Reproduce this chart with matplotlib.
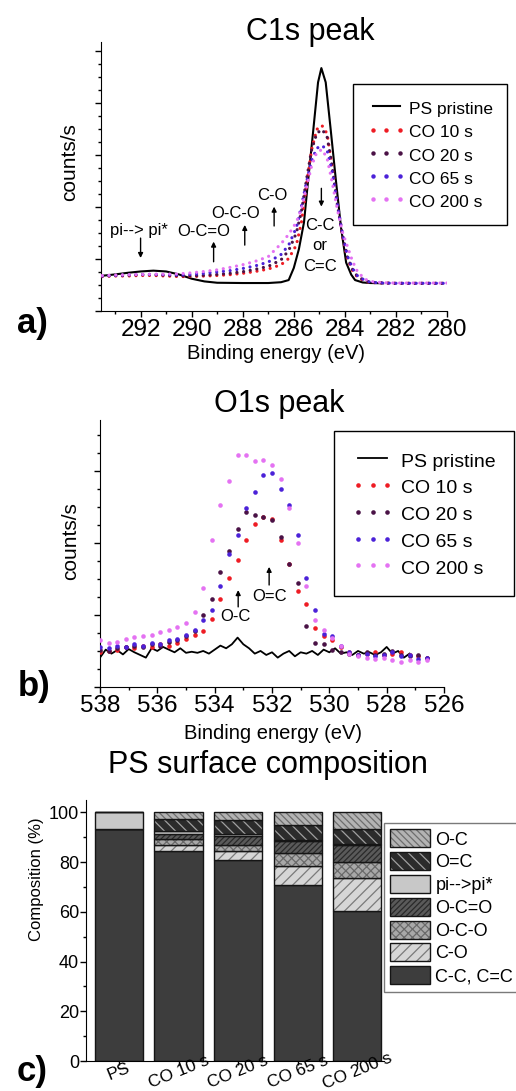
import numpy as np
import matplotlib
matplotlib.use("Agg")
import matplotlib.pyplot as plt
from matplotlib.ticker import MultipleLocator, AutoMinorLocator
from matplotlib.lines import Line2D
from matplotlib.legend_handler import HandlerTuple

# ---------------- data: a) C1s ----------------
e_ps_c = [293.6, 293.0, 292.5, 292.0, 291.5, 291.0, 290.5, 290.0, 289.5, 289.0, 288.0, 287.0,
          286.5, 286.2, 286.0, 285.8, 285.6, 285.45, 285.25, 285.05, 284.92, 284.75, 284.55,
          284.35, 284.15, 283.95, 283.75, 283.6, 283.3, 283.0, 282.5]
ps_c = [1.30, 1.36, 1.42, 1.47, 1.50, 1.47, 1.36, 1.20, 1.10, 1.05, 1.04, 1.04,
        1.07, 1.15, 1.60, 2.30, 3.30, 4.75, 6.60, 8.50, 9.03, 8.50, 6.70,
        4.85, 3.10, 1.80, 1.35, 1.15, 1.06, 1.04, 1.03]

e_c = [293.5, 293.0, 292.5, 292.0, 291.5, 291.0, 290.5, 290.0, 289.5, 289.0, 288.5, 288.0,
       287.5, 287.0, 286.5, 286.2, 285.9, 285.7, 285.5, 285.3, 285.1, 284.9, 284.7, 284.5,
       284.3, 284.1, 283.9, 283.7, 283.5, 283.2, 283.0, 282.5, 282.0, 281.5, 281.0, 280.5, 280.0]
co10_c = [1.28, 1.30, 1.30, 1.32, 1.32, 1.30, 1.28, 1.28, 1.30, 1.32, 1.35, 1.40,
          1.47, 1.56, 1.72, 1.95, 2.45, 3.30, 4.70, 6.00, 6.75, 6.90, 6.60, 5.40,
          4.00, 2.80, 1.95, 1.50, 1.25, 1.10, 1.06, 1.04, 1.03, 1.03, 1.03, 1.03, 1.03]
co20_c = [1.30, 1.32, 1.33, 1.35, 1.35, 1.33, 1.31, 1.30, 1.33, 1.36, 1.40, 1.46,
          1.55, 1.66, 1.90, 2.25, 2.90, 3.70, 4.90, 6.00, 6.60, 6.75, 6.50, 5.40,
          4.00, 2.85, 2.00, 1.55, 1.28, 1.12, 1.07, 1.04, 1.03, 1.03, 1.03, 1.03, 1.03]
co65_c = [1.30, 1.32, 1.34, 1.36, 1.36, 1.35, 1.34, 1.36, 1.40, 1.45, 1.50, 1.58,
          1.68, 1.82, 2.10, 2.45, 3.10, 3.90, 4.80, 5.60, 6.05, 6.15, 6.00, 5.20,
          4.00, 2.90, 2.05, 1.58, 1.30, 1.13, 1.07, 1.04, 1.03, 1.03, 1.03, 1.03, 1.03]
co200_c = [1.32, 1.34, 1.35, 1.36, 1.37, 1.37, 1.38, 1.42, 1.47, 1.53, 1.62, 1.72,
           1.85, 2.02, 2.50, 2.85, 3.30, 3.80, 4.60, 5.40, 5.90, 6.00, 5.70, 4.80,
           3.80, 2.95, 2.40, 1.85, 1.45, 1.18, 1.10, 1.05, 1.04, 1.04, 1.04, 1.04, 1.04]

# ---------------- data: b) O1s ----------------
e_ps_o = [538.0, 537.8, 537.6, 537.4, 537.2, 537.0, 536.8, 536.6, 536.4, 536.2, 536.0,
          535.8, 535.6, 535.4, 535.2, 535.0, 534.8, 534.6, 534.4, 534.2, 534.0,
          533.8, 533.6, 533.4, 533.2, 533.0, 532.8, 532.6, 532.4, 532.2, 532.0,
          531.8, 531.6, 531.4, 531.2, 531.0, 530.8, 530.6, 530.4, 530.2, 530.0,
          529.8, 529.6, 529.4, 529.2, 529.0, 528.8, 528.6, 528.4, 528.2, 528.0,
          527.8, 527.6, 527.4, 527.2]
ps_o = [1.10, 1.40, 1.25, 1.38, 1.22, 1.42, 1.30, 1.20, 1.10, 1.45, 1.35,
        1.50, 1.40, 1.30, 1.45, 1.28, 1.32, 1.28, 1.35, 1.25, 1.40,
        1.55, 1.45, 1.60, 1.85, 1.60, 1.45, 1.25, 1.35, 1.20, 1.30,
        1.10, 1.25, 1.35, 1.15, 1.30, 1.25, 1.35, 1.20, 1.40, 1.30,
        1.45, 1.25, 1.30, 1.20, 1.35, 1.25, 1.30, 1.20, 1.30, 1.50,
        1.25, 1.35, 1.10, 1.25]

e_o = [538.0, 537.7, 537.4, 537.1, 536.8, 536.5, 536.2, 535.9, 535.6, 535.3, 535.0, 534.7,
       534.4, 534.1, 533.8, 533.5, 533.2, 532.9, 532.6, 532.3, 532.0, 531.7, 531.4, 531.1,
       530.8, 530.5, 530.2, 529.9, 529.6, 529.3, 529.0, 528.7, 528.4, 528.1, 527.8, 527.5,
       527.2, 526.9, 526.6]
co10_o = [1.30, 1.35, 1.40, 1.50, 1.45, 1.55, 1.50, 1.60, 1.55, 1.65, 1.80, 1.95,
          2.10, 2.55, 3.30, 4.10, 4.75, 5.50, 6.10, 6.35, 6.30, 5.50, 4.60, 3.60,
          3.10, 2.20, 1.90, 1.75, 1.50, 1.30, 1.20, 1.25, 1.30, 1.20, 1.25, 1.30,
          1.20, 1.15, 1.10]
co20_o = [1.40, 1.35, 1.45, 1.50, 1.55, 1.50, 1.60, 1.55, 1.70, 1.75, 1.90, 2.10,
          2.70, 3.30, 4.30, 5.10, 5.90, 6.55, 6.45, 6.35, 6.25, 5.60, 4.60, 3.90,
          2.30, 1.65, 1.60, 1.40, 1.30, 1.25, 1.20, 1.30, 1.20, 1.25, 1.35, 1.20,
          1.15, 1.20, 1.10]
co65_o = [1.50, 1.45, 1.55, 1.50, 1.60, 1.55, 1.65, 1.60, 1.75, 1.80, 1.95, 2.15,
          2.50, 2.90, 3.80, 5.00, 5.70, 6.70, 7.30, 7.95, 8.00, 7.40, 6.80, 5.70,
          4.10, 2.90, 2.00, 1.90, 1.55, 1.30, 1.20, 1.25, 1.15, 1.20, 1.30, 1.15,
          1.20, 1.05, 1.10]
co200_o = [1.76, 1.66, 1.70, 1.78, 1.87, 1.90, 1.95, 2.05, 2.15, 2.25, 2.40, 2.80,
           3.70, 5.50, 6.80, 7.70, 8.70, 8.70, 8.45, 8.50, 8.30, 7.80, 6.70, 5.40,
           3.80, 2.50, 2.15, 1.85, 1.55, 1.25, 1.15, 1.10, 1.05, 1.10, 1.00, 0.95,
           1.00, 0.95, 1.00]

# ---------------- data: c) composition ----------------
samples = ["PS", "CO 10 s", "CO 20 s", "CO 65 s", "CO 200 s"]
cc = [93.5, 84.5, 81.0, 71.0, 60.5]
c_o = [0.0, 2.5, 3.5, 7.5, 13.0]
o_c_o = [0.0, 2.5, 2.5, 5.0, 6.5]
o_c_eq_o = [0.0, 2.0, 3.5, 5.0, 7.0]
pi_pi = [6.5, 1.0, 1.0, 0.5, 0.5]
o_eq_c = [0.0, 5.0, 5.5, 6.0, 6.0]
o_c = [0.0, 2.5, 3.0, 5.0, 6.5]

series_names = ["PS pristine", "CO 10 s", "CO 20 s", "CO 65 s", "CO 200 s"]
series_colors = ["black", "#ee1c24", "#4a1246", "#4b22d8", "#e472f2"]

plt.rcParams["font.family"] = ["Liberation Sans", "DejaVu Sans"]
plt.rcParams["hatch.linewidth"] = 0.9

W, H = 516, 1091
fig = plt.figure(figsize=(W / 100, H / 100), dpi=100)


def fx(px):
    return px / W


def fy(py):
    return 1 - py / H


def style_spectrum(ax, xlim, ymaj):
    ax.set_xlim(*xlim)
    ax.set_ylim(0, 10)
    for s in ["top", "right"]:
        ax.spines[s].set_visible(False)
    ax.xaxis.set_major_locator(MultipleLocator(2))
    ax.xaxis.set_minor_locator(MultipleLocator(1))
    ax.yaxis.set_major_locator(MultipleLocator(ymaj))
    ax.yaxis.set_minor_locator(AutoMinorLocator(4))
    ax.tick_params(which="both", direction="out", width=1)
    ax.tick_params(which="major", length=4.5)
    ax.tick_params(which="minor", length=2.5)
    ax.tick_params(axis="y", labelleft=False)
    ax.tick_params(axis="x", pad=1, labelsize=17.5)


def arrow(ax, x, y0, y1):
    ax.annotate("", xy=(x, y1), xytext=(x, y0),
                arrowprops=dict(arrowstyle="-|>", color="black", lw=1.0,
                                mutation_scale=7, shrinkA=0, shrinkB=0))


# ================= a) =================
ax_a = fig.add_axes([fx(101), fy(311), fx(447) - fx(101), fy(42) - fy(311)])
ax_a.plot(e_ps_c, ps_c, color="black", lw=1.5, zorder=3)
for ys, col in zip([co10_c, co20_c, co65_c, co200_c], series_colors[1:]):
    ax_a.plot(e_c, ys, color=col, lw=2.3, linestyle=(0, (0.01, 2.1)),
              dash_capstyle="round", zorder=4)
style_spectrum(ax_a, (293.55, 280), 1.93)

fs_ann = 12
ax_a.text(292.08, 3.0, "pi--> pi*", ha="center", va="center", fontsize=fs_ann)
arrow(ax_a, 292.0, 2.71, 1.97)
ax_a.text(289.54, 2.95, "O-C=O", ha="center", va="center", fontsize=fs_ann)
arrow(ax_a, 289.14, 1.83, 2.58)
ax_a.text(288.28, 3.63, "O-C-O", ha="center", va="center", fontsize=fs_ann)
arrow(ax_a, 287.92, 2.45, 3.2)
ax_a.text(286.83, 4.31, "C-O", ha="center", va="center", fontsize=fs_ann)
arrow(ax_a, 286.77, 3.16, 3.88)
arrow(ax_a, 284.92, 4.56, 3.88)
ax_a.text(284.99, 2.42, "C-C\nor\nC=C", ha="center", va="center",
          fontsize=fs_ann, linespacing=1.45)

h_a = [Line2D([], [], color="black", lw=1.5)]
for col in series_colors[1:]:
    h_a.append(Line2D([], [], ls="none", marker="o", ms=3.2, mew=0, color=col))
leg_a = ax_a.legend(h_a, series_names, loc="upper left", bbox_to_anchor=(fx(353), fy(84)),
                    bbox_transform=fig.transFigure, fontsize=12.5, frameon=True,
                    fancybox=False, edgecolor="black", framealpha=1, numpoints=3,
                    handlelength=2.15, handleheight=1.3, handletextpad=0.2,
                    labelspacing=0.25, borderpad=0.85, borderaxespad=0)
leg_a.get_frame().set_linewidth(1.0)

fig.text(fx(310), fy(40), "C1s peak", ha="center", va="baseline", fontsize=22)
fig.text(fx(276), fy(359), "Binding energy (eV)", ha="center", va="baseline", fontsize=14.5)
fig.text(fx(70), fy(162.5), "counts/s", rotation=90, ha="center", va="center", fontsize=15)
fig.text(fx(32), fy(324), "a)", ha="center", va="center", fontsize=25, fontweight="bold")

# ================= b) =================
ax_b = fig.add_axes([fx(100), fy(687), fx(444) - fx(100), fy(420) - fy(687)])
ax_b.plot(e_ps_o, ps_o, color="black", lw=1.3, zorder=3, label=series_names[0])
for ys, col, name in zip([co10_o, co20_o, co65_o, co200_o], series_colors[1:], series_names[1:]):
    ax_b.plot(e_o, ys, ls="none", marker="o", ms=3.3, mew=0, color=col, zorder=4, label=name)
style_spectrum(ax_b, (538, 526), 2.7)
ax_b.text(533.29, 2.63, "O-C", ha="center", va="center", fontsize=fs_ann)
arrow(ax_b, 533.18, 3.0, 3.63)
ax_b.text(532.07, 3.38, "O=C", ha="center", va="center", fontsize=fs_ann)
arrow(ax_b, 532.1, 3.82, 4.5)

leg_b = ax_b.legend(loc="upper left", bbox_to_anchor=(fx(334), fy(431)),
                    bbox_transform=fig.transFigure, fontsize=14, frameon=True,
                    fancybox=False, edgecolor="black", framealpha=1, numpoints=3,
                    handlelength=2.1, handleheight=1.3, handletextpad=0.4,
                    labelspacing=0.29, borderpad=0.95, borderaxespad=0)
leg_b.get_frame().set_linewidth(1.0)

fig.text(fx(279), fy(412), "O1s peak", ha="center", va="baseline", fontsize=22)
fig.text(fx(272.5), fy(739), "Binding energy (eV)", ha="center", va="baseline", fontsize=14.5)
fig.text(fx(71), fy(541), "counts/s", rotation=90, ha="center", va="center", fontsize=15)
fig.text(fx(34), fy(686.5), "b)", ha="center", va="center", fontsize=25, fontweight="bold")

# ================= c) =================
ax_c = fig.add_axes([fx(86), fy(1061), fx(384) - fx(86), fy(800) - fy(1061)])
x = np.arange(len(samples))
width = 0.81
layers = [
    ("C-C, C=C", cc, "#3d3d3d", None, "#3d3d3d"),
    ("C-O", c_o, "#d6d6d6", "///", "#7a7a7a"),
    ("O-C-O", o_c_o, "#a8a8a8", "xxxx", "#6a6a6a"),
    ("O-C=O", o_c_eq_o, "#5a5a5a", "//////", "#2a2a2a"),
    ("pi-->pi*", pi_pi, "#c8c8c8", None, "#c8c8c8"),
    ("O=C", o_eq_c, "#2b2b2b", "\\\\\\", "#a0a0a0"),
    ("O-C", o_c, "#b3b3b3", "\\\\\\\\\\", "#6e6e6e"),
]
bottom = np.zeros(len(samples))
handles_c = []
labels_c = []
for name, vals, face, hatch, hcol in layers:
    vals = np.array(vals)
    fill = ax_c.bar(x, vals, width, bottom=bottom, color=face, hatch=hatch,
                    edgecolor=hcol, linewidth=0)
    edge = ax_c.bar(x, vals, width, bottom=bottom, fill=False,
                    edgecolor="#151515", linewidth=1.0)
    handles_c.append((fill, edge))
    labels_c.append(name)
    bottom += vals

ax_c.set_xlim(-0.554, 4.45)
ax_c.set_ylim(0, 105)
for s in ["top", "right"]:
    ax_c.spines[s].set_visible(False)
ax_c.set_xticks(x)
ax_c.set_xticklabels(samples, rotation=22, fontsize=12.5, rotation_mode="anchor",
                     ha="center", va="center")
ax_c.yaxis.set_major_locator(MultipleLocator(20))
ax_c.yaxis.set_minor_locator(MultipleLocator(10))
ax_c.tick_params(which="both", direction="out", width=1)
ax_c.tick_params(which="major", length=4)
ax_c.tick_params(which="minor", length=2.5)
ax_c.tick_params(axis="y", labelsize=13, pad=1)
ax_c.tick_params(axis="x", length=3, pad=4.5)

leg_c = ax_c.legend(handles_c[::-1], labels_c[::-1], handler_map={tuple: HandlerTuple(ndivide=1)},
                    loc="upper left", bbox_to_anchor=(fx(384), fy(823)),
                    bbox_transform=fig.transFigure, fontsize=13,
                    frameon=True, fancybox=False, edgecolor="#7a7a7a", framealpha=1,
                    handlelength=2.2, handleheight=1.17, handletextpad=0.3,
                    labelspacing=0.2, borderpad=0.35, borderaxespad=0)
leg_c.get_frame().set_linewidth(1.0)

fig.text(fx(267.5), fy(773), "PS surface composition", ha="center", va="baseline", fontsize=22)
fig.text(fx(36), fy(879.5), "Composition (%)", rotation=90, ha="center", va="center", fontsize=12)
fig.text(fx(32), fy(1071), "c)", ha="center", va="center", fontsize=25, fontweight="bold")

fig.savefig("out.png", dpi=100)
